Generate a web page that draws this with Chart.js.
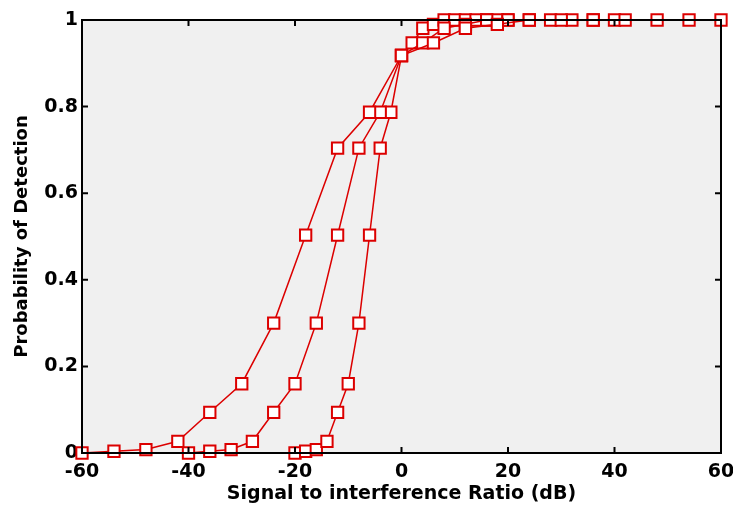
<!DOCTYPE html>
<html>
<head>
<meta charset="utf-8">
<script src="https://cdn.jsdelivr.net/npm/chart.js@4"></script>
<style>
  html, body { margin: 0; padding: 0; background: #fff; }
  #wrap { width: 733px; height: 505px; }
</style>
</head>
<body>
<div id="wrap"><canvas id="chart-area"></canvas></div>
<script>
// SIR values (dB) for the three curves
var sirWide   = [-60, -54, -48, -42, -36, -30, -24, -18, -12, -6, 0, 6, 12, 18, 24, 30, 36, 42, 48, 54, 60];
var sirMid    = [-40, -36, -32, -28, -24, -20, -16, -12, -8, -4, 0, 4, 8, 12, 16, 20, 24, 28, 32, 36, 40];
var sirNarrow = [-20, -18, -16, -14, -12, -10, -8, -6, -4, -2, 0, 2, 4, 6, 8, 10, 12, 14, 16, 18, 20];
// probability of detection
var pdWide   = [0, 0.004, 0.008, 0.027, 0.094, 0.16, 0.30, 0.503, 0.704, 0.787, 0.918, 0.947, 0.981, 0.99, 1, 1, 1, 1, 1, 1, 1];
var pdMid    = [0, 0.004, 0.008, 0.027, 0.094, 0.16, 0.30, 0.503, 0.704, 0.787, 0.918, 0.947, 0.981, 0.99, 1, 1, 1, 1, 1, 1, 1];
var pdNarrow = [0, 0.004, 0.008, 0.027, 0.094, 0.16, 0.30, 0.503, 0.704, 0.787, 0.918, 0.947, 0.981, 0.99, 1, 1, 1, 1, 1, 1, 1];
var xTicks = [-60, -40, -20, 0, 20, 40, 60];
var yTicks = [0, 0.2, 0.4, 0.6, 0.8, 1];

var red = 'rgb(220,0,0)';
var labelFont = { family: 'DejaVu Sans', size: 19, weight: 'bold' };

function toPoints(xs, ys) {
  return xs.map(function (x, i) { return { x: x, y: ys[i] }; });
}

function series(xs, ys) {
  return {
    data: toPoints(xs, ys),
    showLine: true,
    borderColor: red,
    borderWidth: 1.5,
    pointStyle: 'rect',
    pointRadius: 8,
    pointBorderWidth: 2,
    pointBorderColor: red,
    pointBackgroundColor: '#ffffff',
    pointHoverRadius: 8,
    clip: false
  };
}

// gray plot area, black box and inner tick marks like MATLAB
var boxPlugin = {
  id: 'box',
  beforeDatasetsDraw: function (chart) {
    var a = chart.chartArea, c = chart.ctx;
    c.save();
    c.fillStyle = '#f0f0f0';
    c.fillRect(a.left, a.top, a.right - a.left, a.bottom - a.top);
    c.restore();
  },
  afterDatasetsDraw: function (chart) {
    var a = chart.chartArea, c = chart.ctx;
    var xs = chart.scales.x, ys = chart.scales.y;
    c.save();
    c.strokeStyle = '#000';
    c.lineWidth = 2;
    c.strokeRect(a.left, a.top, a.right - a.left, a.bottom - a.top);
    c.beginPath();
    xTicks.forEach(function (v) {
      var px = xs.getPixelForValue(v);
      c.moveTo(px, a.bottom); c.lineTo(px, a.bottom - 6);
      c.moveTo(px, a.top); c.lineTo(px, a.top + 6);
    });
    yTicks.forEach(function (v) {
      var py = ys.getPixelForValue(v);
      c.moveTo(a.left, py); c.lineTo(a.left + 6, py);
      c.moveTo(a.right, py); c.lineTo(a.right - 6, py);
    });
    c.stroke();
    c.restore();
  }
};

var config = {
  type: 'scatter',
  data: {
    datasets: [
      series(sirWide, pdWide),
      series(sirMid, pdMid),
      series(sirNarrow, pdNarrow)
    ]
  },
  options: {
    responsive: false,
    animation: false,
    layout: { padding: { left: 0, right: 12, top: 20, bottom: 0 } },
    plugins: { legend: { display: false }, tooltip: { enabled: false } },
    scales: {
      x: {
        type: 'linear',
        min: -60, max: 60,
        grid: { display: false, drawTicks: false },
        border: { display: false },
        afterBuildTicks: function (s) { s.ticks = xTicks.map(function (v) { return { value: v }; }); },
        ticks: { color: '#000', font: labelFont, padding: 8, maxRotation: 0 },
        title: {
          display: true,
          text: 'Signal to interference Ratio (dB)',
          color: '#000',
          font: { family: 'DejaVu Sans', size: 19, weight: 'bold' },
          padding: { top: 0, bottom: 0 }
        },
        afterFit: function (s) {
          s.height = 52;
          // let the "60" label hang past the plot edge, as in the original
          s.paddingRight = 0;
          s.paddingLeft = 0;
        }
      },
      y: {
        type: 'linear',
        min: 0, max: 1,
        grid: { display: false, drawTicks: false },
        border: { display: false },
        afterBuildTicks: function (s) { s.ticks = yTicks.map(function (v) { return { value: v }; }); },
        ticks: {
          color: '#000', font: labelFont, padding: 4,
          callback: function (v) { return String(Math.round(v * 10) / 10); }
        },
        title: {
          display: true,
          text: 'Probability of Detection',
          color: '#000',
          font: { family: 'DejaVu Sans', size: 18, weight: 'bold' },
          padding: { top: 12, bottom: 0 }
        },
        afterFit: function (s) { s.width = 82; }
      }
    }
  },
  plugins: [boxPlugin]
};

var context = document.getElementById('chart-area').getContext('2d');
context.canvas.width = 733;
context.canvas.height = 505;
window.myChart = new Chart(context, config);
</script>
</body>
</html>
